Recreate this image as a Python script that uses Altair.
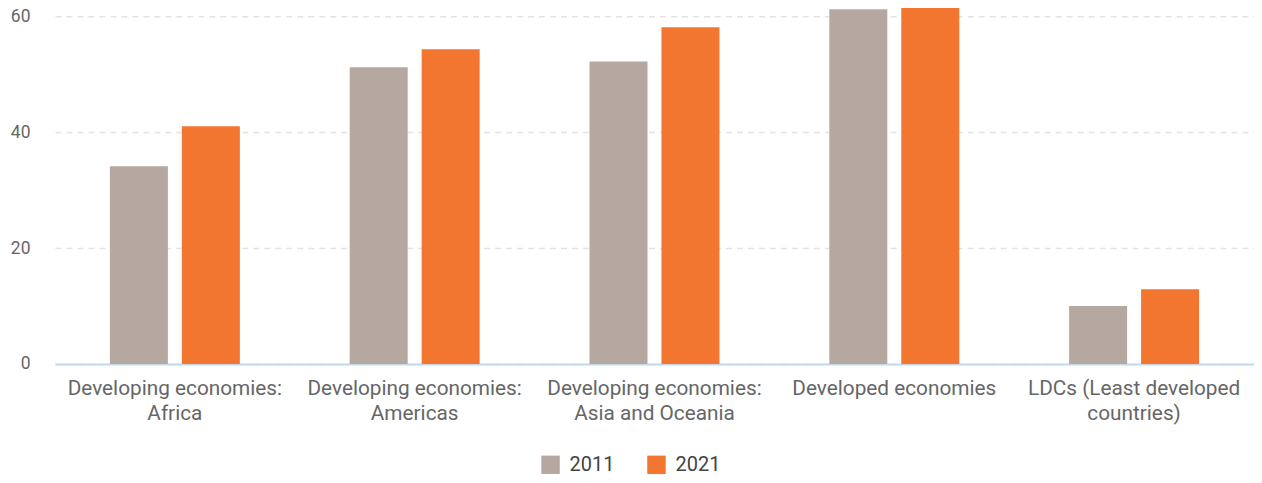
import altair as alt
import pandas as pd

categories = [
    "Developing economies:\nAfrica",
    "Developing economies:\nAmericas",
    "Developing economies:\nAsia and Oceania",
    "Developed economies",
    "LDCs (Least developed\ncountries)",
]
years = ["2011", "2021"]
values_2011 = [34.1, 51.2, 52.2, 61.2, 10.0]
values_2021 = [41.0, 54.3, 58.1, 62.1, 12.9]
colors = ["#b5a8a0", "#f37630"]

rows = []
for c, v1, v2 in zip(categories, values_2011, values_2021):
    rows.append({"category": c, "year": years[0], "value": v1})
    rows.append({"category": c, "year": years[1], "value": v2})
df = pd.DataFrame(rows)

FONT = "Roboto"

chart = (
    alt.Chart(df)
    .mark_bar(clip=False)
    .encode(
        x=alt.X(
            "category:N",
            sort=categories,
            title=None,
            scale=alt.Scale(paddingInner=0.458, paddingOuter=0.229),
            axis=alt.Axis(
                labelAngle=0,
                labelExpr="split(datum.label, '\\n')",
                labelFont=FONT,
                labelFontSize=20.8,
                labelColor="#666666",
                labelPadding=15,
                labelLineHeight=25,
                labelLimit=400,
                ticks=False,
                domainColor="#c5d9ec",
                domainWidth=2,
                grid=False,
            ),
        ),
        xOffset=alt.XOffset(
            "year:N", sort=years, scale=alt.Scale(paddingInner=0.194, paddingOuter=0)
        ),
        y=alt.Y(
            "value:Q",
            title=None,
            scale=alt.Scale(domain=[0, 60.7], nice=False),
            axis=alt.Axis(
                values=[0, 20, 40, 60],
                labelFont=FONT,
                labelFontSize=17.5,
                labelColor="#666666",
                labelPadding=25,
                ticks=False,
                domain=False,
                grid=True,
                gridColor="#e3e3e3",
                gridDash=[6, 5],
                gridWidth=1.5,
            ),
        ),
        color=alt.Color(
            "year:N",
            sort=years,
            scale=alt.Scale(domain=years, range=colors),
            legend=alt.Legend(
                title=None,
                orient="none",
                direction="horizontal",
                legendX=486,
                legendY=443,
                symbolType="square",
                symbolSize=340,
                symbolStrokeWidth=0,
                symbolOpacity=1,
                labelFont=FONT,
                labelFontSize=20,
                labelColor="#444444",
                labelOffset=9,
                columnPadding=32,
                labelLimit=200,
            ),
        ),
    )
    .properties(
        width=1200,
        height=352,
        autosize=alt.AutoSizeParams(type="none"),
        padding={"left": 47, "top": 4, "right": 0, "bottom": 111},
    )
    .configure_view(stroke=None)
)

chart.save("out.html", embed_options={"renderer": "svg", "actions": False})
